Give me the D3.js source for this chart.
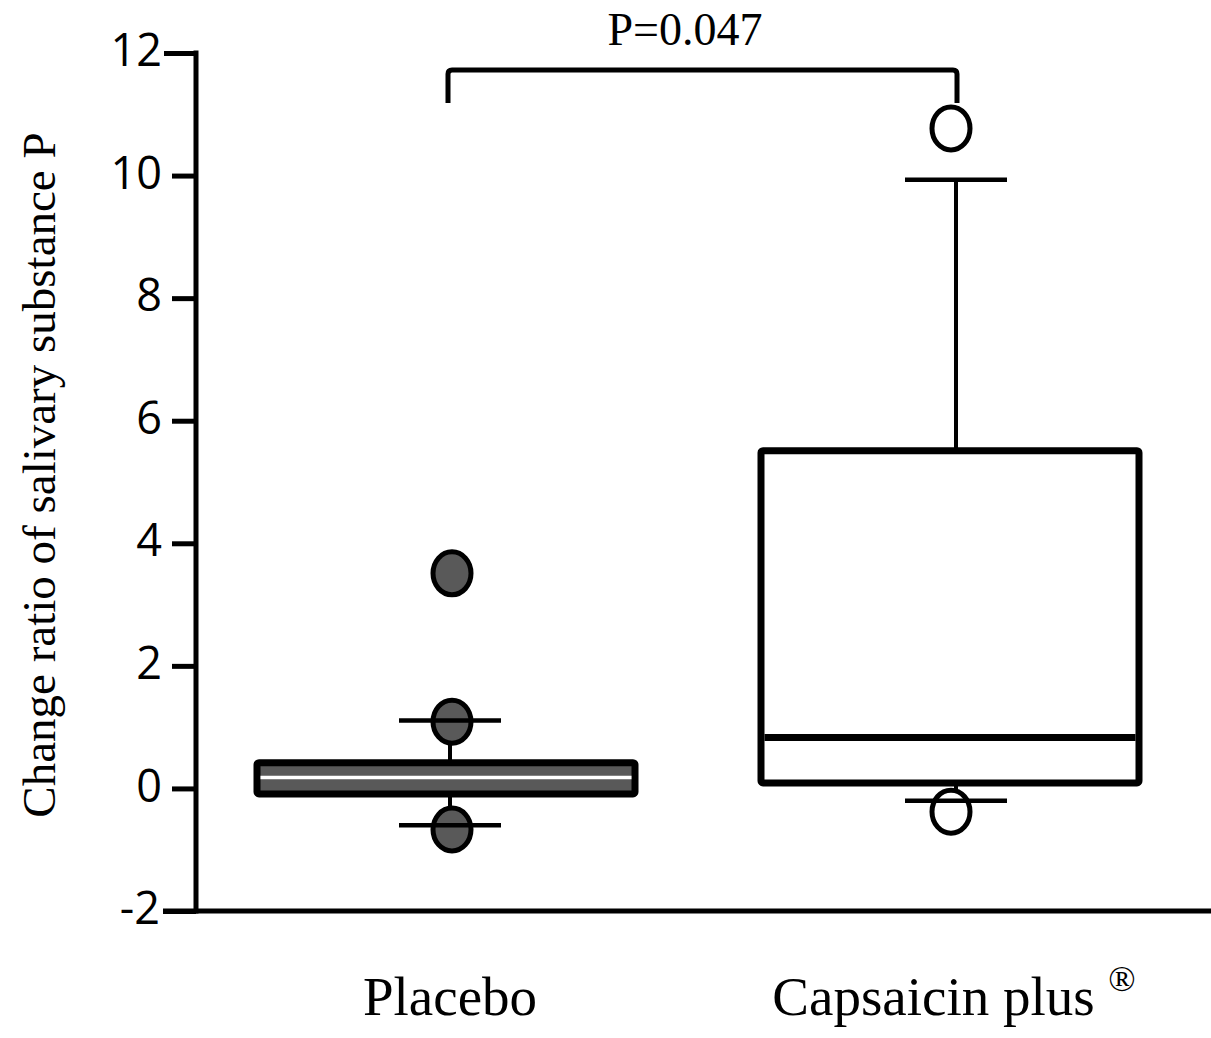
<!DOCTYPE html>
<html>
<head>
<meta charset="utf-8">
<script src="https://cdn.jsdelivr.net/npm/d3@7"></script>
<style>
  body { margin: 0; background: #fff; }
  svg { display: block; }
</style>
</head>
<body>
<svg id="chart" width="1211" height="1038"></svg>
<script>
// box plot values
var groups = ["Placebo", "Capsaicin plus"];
var q1 = [-0.09, 0.09];
var median = [0.18, 0.83];
var q3 = [0.42, 5.51];
var whiskLow = [-0.60, -0.20];
var whiskHigh = [1.11, 9.93];
var outliers = [
  [3.51, 1.09, -0.67],
  [10.77, -0.38]
];
var yTicks = [-2, 0, 2, 4, 6, 8, 10, 12];
var pText = "P=0.047";

var fills = ["#595959", "#ffffff"];
var medColor = ["#ffffff", "#000000"];
// small horizontal nudges so marks sit where the original drew them
var boxShift = [-4, -6];
var dotShift = [2, -5];

var svg = d3.select("#chart");

var y = d3.scaleLinear().domain([-2, 12]).range([911, 53]);
var x = d3.scalePoint().domain(groups).range([450, 956]);

var boxW = 378;
var capW = 102;

// y axis
var yAxis = d3.axisLeft(y).tickValues(yTicks).tickSize(24).tickPadding(10)
  .tickFormat(function(d) { return String(d); });
var gy = svg.append("g").attr("transform", "translate(196,0)").call(yAxis);
gy.select(".domain").remove();
gy.selectAll(".tick line").attr("stroke", "#000").attr("stroke-width", 5);
gy.selectAll(".tick").filter(function(d) { return d == 12; }).select("line").attr("x2", -32);
gy.selectAll(".tick").filter(function(d) { return d == -2; }).select("line").attr("x2", -33);
gy.selectAll(".tick text")
  .attr("font-family", "'Open Sans', sans-serif")
  .attr("font-size", 45)
  .attr("fill", "#000")
  .attr("dy", "0.28em");
gy.selectAll(".tick").filter(function(d) { return d == 12; }).select("text").attr("x", -34);
gy.selectAll(".tick").filter(function(d) { return d == -2; }).select("text").attr("x", -36);

svg.append("line")
  .attr("x1", 196).attr("x2", 196)
  .attr("y1", y(12) - 2.5).attr("y2", y(-2) + 2.5)
  .attr("stroke", "#000").attr("stroke-width", 5);

// x axis
svg.append("line")
  .attr("x1", 163).attr("x2", 1211)
  .attr("y1", y(-2)).attr("y2", y(-2))
  .attr("stroke", "#000").attr("stroke-width", 5);

svg.selectAll(".xlab")
  .data(groups)
  .join("text")
  .attr("class", "xlab")
  .attr("x", function(d) { return x(d); })
  .attr("y", 1015)
  .attr("text-anchor", "middle")
  .attr("font-family", "'Liberation Serif', 'Times New Roman', serif")
  .attr("font-size", 55)
  .attr("fill", "#000")
  .each(function(d, i) {
    var t = d3.select(this);
    if (i == 1) {
      t.attr("x", x(d) - 2);
      t.append("tspan").text(d + " ");
      t.append("tspan").text("\u00AE").attr("font-size", 36).attr("dy", -24);
    } else {
      t.text(d);
    }
  });

// y label
svg.append("text")
  .attr("transform", "translate(55,475) rotate(-90)")
  .attr("text-anchor", "middle")
  .attr("font-family", "'Liberation Serif', 'Times New Roman', serif")
  .attr("font-size", 47)
  .attr("fill", "#000")
  .text("Change ratio of salivary substance P");

var idx = d3.range(groups.length);

// whiskers
var g = svg.append("g");
g.selectAll(".whisk")
  .data(idx)
  .join("line")
  .attr("x1", function(i) { return x(groups[i]); })
  .attr("x2", function(i) { return x(groups[i]); })
  .attr("y1", function(i) { return y(whiskLow[i]); })
  .attr("y2", function(i) { return y(whiskHigh[i]); })
  .attr("stroke", "#000").attr("stroke-width", 4);

// outliers
idx.forEach(function(i) {
  g.selectAll(".out" + i)
    .data(outliers[i])
    .join("ellipse")
    .attr("cx", x(groups[i]) + dotShift[i])
    .attr("cy", function(d) { return y(d); })
    .attr("rx", 19)
    .attr("ry", 21.5)
    .attr("fill", fills[i])
    .attr("stroke", "#000")
    .attr("stroke-width", 5);
});

// caps
["low", "high"].forEach(function(k) {
  var vals = k == "low" ? whiskLow : whiskHigh;
  g.selectAll(".cap" + k)
    .data(idx)
    .join("line")
    .attr("x1", function(i) { return x(groups[i]) - capW / 2; })
    .attr("x2", function(i) { return x(groups[i]) + capW / 2; })
    .attr("y1", function(i) { return y(vals[i]); })
    .attr("y2", function(i) { return y(vals[i]); })
    .attr("stroke", "#000").attr("stroke-width", 4.5);
});

// boxes
function boxLeft(i) { return x(groups[i]) + boxShift[i] - boxW / 2; }

g.selectAll(".box")
  .data(idx)
  .join("rect")
  .attr("x", boxLeft)
  .attr("y", function(i) { return y(q3[i]); })
  .attr("width", boxW)
  .attr("height", function(i) { return y(q1[i]) - y(q3[i]); })
  .attr("rx", 2)
  .attr("fill", function(i) { return fills[i]; })
  .attr("stroke", "#000")
  .attr("stroke-width", 7);

g.selectAll(".med")
  .data(idx)
  .join("line")
  .attr("x1", function(i) { return boxLeft(i) + 3.5; })
  .attr("x2", function(i) { return boxLeft(i) + boxW - 3.5; })
  .attr("y1", function(i) { return y(median[i]); })
  .attr("y2", function(i) { return y(median[i]); })
  .attr("stroke", function(i) { return medColor[i]; })
  .attr("stroke-width", function(i) { return i == 0 ? 3.5 : 7; });

// significance bracket
var bx1 = x(groups[0]) - 2, bx2 = x(groups[1]) + 1;
var byTop = 70, byBot = 103;
svg.append("path")
  .attr("d", "M" + bx1 + "," + byBot + " L" + bx1 + "," + (byTop + 4) +
             " Q" + bx1 + "," + byTop + " " + (bx1 + 4) + "," + byTop +
             " L" + (bx2 - 4) + "," + byTop +
             " Q" + bx2 + "," + byTop + " " + bx2 + "," + (byTop + 4) +
             " L" + bx2 + "," + byBot)
  .attr("fill", "none")
  .attr("stroke", "#000")
  .attr("stroke-width", 5);

svg.append("text")
  .attr("x", 685)
  .attr("y", 45)
  .attr("text-anchor", "middle")
  .attr("font-family", "'Liberation Serif', 'Times New Roman', serif")
  .attr("font-size", 46)
  .attr("fill", "#000")
  .text(pText);
</script>
</body>
</html>
